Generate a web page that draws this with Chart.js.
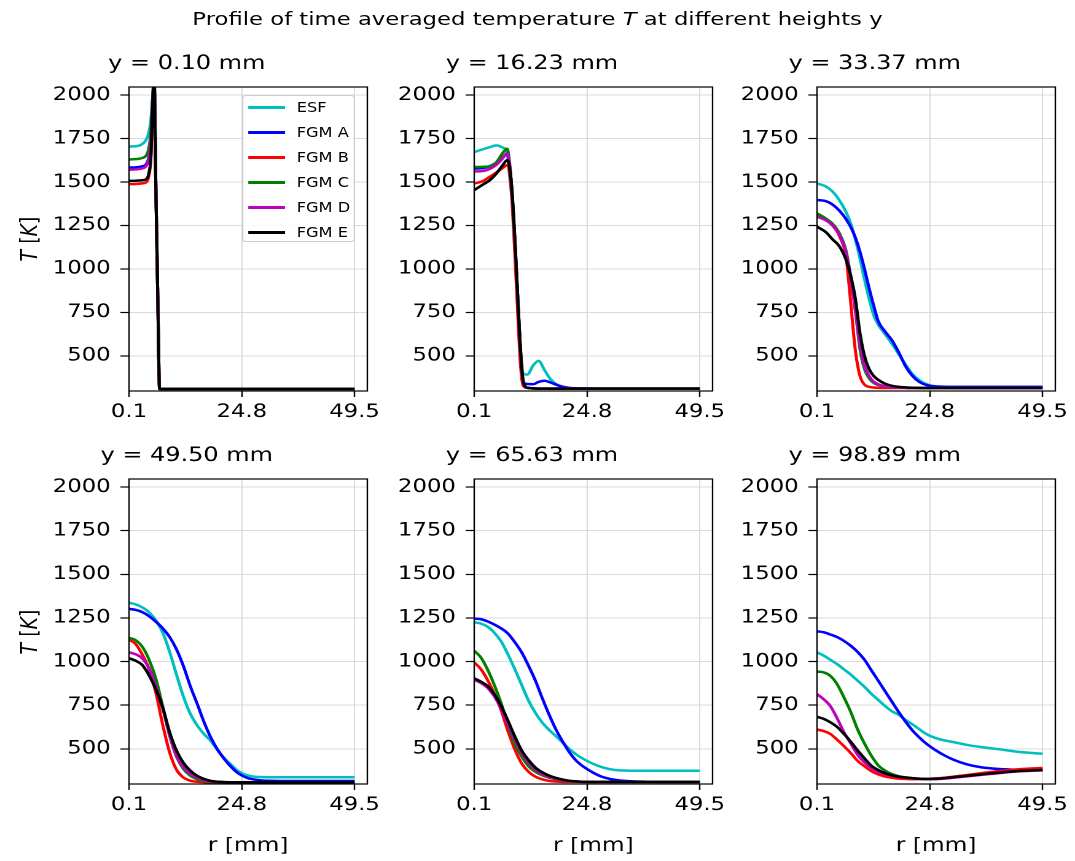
<!DOCTYPE html>
<html>
<head>
<meta charset="UTF-8">
<title>Temperature profiles</title>
<script src="https://cdn.jsdelivr.net/npm/chart.js@4"></script>
<style>
  body { margin: 0; background: #fff; }
  /* figure is laid out at 875px wide and stretched to 1075px like the reference */
  #figure {
    position: absolute; left: 0; top: 0; width: 875px; height: 861px;
    transform: scaleX(1.228571); transform-origin: 0 0;
    font-family: "DejaVu Sans", sans-serif; color: #000;
  }
  #figure canvas { position: absolute; }
  .suptitle { position: absolute; left: 0; top: 8px; width: 875px; text-align: center; font-size: 18.5px; line-height: 22px; }
  .ylabel { position: absolute; width: 200px; height: 22px; line-height: 22px; font-size: 19px; text-align: center; transform: rotate(-90deg); }
  .legend { position: absolute; left: 196.5px; top: 95px; width: 92px; height: 147px; border: 1px solid #cccccc; border-radius: 3px; background: rgba(255,255,255,0.8); box-sizing: border-box; }
  .legend .row { position: absolute; left: 0; height: 20px; width: 100%; font-size: 13.2px; line-height: 20px; }
  .legend .line { position: absolute; left: 4px; top: 8.7px; width: 30px; height: 2.5px; }
  .legend .txt { position: absolute; left: 44px; top: 0; white-space: nowrap; }
</style>
</head>
<body>
<div id="figure">
  <div class="suptitle">Profile of time averaged temperature <i>T</i> at different heights y</div>
</div>
<script>
const seriesNames = ['ESF', 'FGM A', 'FGM B', 'FGM C', 'FGM D', 'FGM E'];
const seriesColors = ['#00bfbf', '#0000ff', '#ff0000', '#008000', '#bf00bf', '#000000'];
const panelTitles = ['y = 0.10 mm', 'y = 16.23 mm', 'y = 33.37 mm', 'y = 49.50 mm', 'y = 65.63 mm', 'y = 98.89 mm'];
const xTicks = [0.1, 24.8, 49.5];
const xTickLabels = ['0.1', '24.8', '49.5'];
const yTicks = [500, 750, 1000, 1250, 1500, 1750, 2000];

// y = 0.10 mm
const r1 = [0.1, 1.5, 3, 3.8, 4.4, 4.9, 5.3, 5.6, 6.0, 6.4, 6.8, 8, 20, 35, 49.5];
const T1 = [
  [1704, 1705, 1718, 1740, 1780, 1860, 2000, 2100, 1440, 840, 310, 310, 310, 310, 310], // ESF
  [1583, 1584, 1590, 1600, 1640, 1750, 1980, 2100, 1440, 840, 310, 310, 310, 310, 310], // FGM A
  [1487, 1488, 1492, 1497, 1530, 1640, 1950, 2100, 1440, 840, 310, 310, 310, 310, 310], // FGM B
  [1630, 1631, 1638, 1650, 1690, 1790, 1990, 2100, 1440, 840, 310, 310, 310, 310, 310], // FGM C
  [1571, 1572, 1578, 1590, 1630, 1740, 1980, 2100, 1440, 840, 310, 310, 310, 310, 310], // FGM D
  [1506, 1507, 1510, 1515, 1545, 1650, 1960, 2080, 1440, 840, 310, 310, 310, 310, 310]  // FGM E
];

// y = 16.23 mm
const r2 = [0.1, 2, 3.5, 5, 6.3, 7.3, 7.8, 8.4, 9.0, 9.6, 10.2, 10.8, 11.7, 13, 14.2, 15.5, 16.8, 18.5, 20, 22, 30, 49.5];
const T2 = [
  [1672, 1688, 1700, 1710, 1698, 1670, 1545, 1390, 1150, 850, 560, 400, 392, 445, 471, 418, 366, 330, 318, 313, 312, 312],
  [1577, 1580, 1590, 1612, 1640, 1660, 1605, 1430, 1165, 850, 540, 350, 338, 337, 350, 357, 347, 330, 320, 314, 312, 312],
  [1491, 1505, 1530, 1555, 1580, 1596, 1560, 1380, 1080, 760, 460, 330, 316, 313, 312, 312, 312, 312, 312, 312, 312, 312],
  [1586, 1587, 1590, 1615, 1665, 1691, 1620, 1430, 1165, 850, 540, 355, 316, 313, 312, 312, 312, 312, 312, 312, 312, 312],
  [1560, 1563, 1575, 1600, 1635, 1665, 1610, 1430, 1165, 850, 540, 355, 316, 313, 312, 312, 312, 312, 312, 312, 312, 312],
  [1453, 1485, 1510, 1550, 1595, 1625, 1590, 1440, 1175, 860, 550, 360, 317, 313, 312, 312, 312, 312, 312, 312, 312, 312]
];

// y = 33.37 mm
const r3 = [0.1, 2, 3.5, 5, 6.5, 7.5, 8.5, 9.5, 10.5, 11.5, 12.5, 13.5, 15, 16.5, 18, 19.5, 21, 22.5, 24, 26, 30, 49.5];
const T3 = [
  [1491, 1475, 1445, 1395, 1325, 1260, 1170, 1060, 940, 830, 735, 680, 625, 570, 510, 450, 395, 360, 338, 325, 322, 322],
  [1396, 1390, 1370, 1335, 1285, 1240, 1180, 1100, 1000, 890, 790, 700, 640, 590, 520, 440, 385, 350, 333, 324, 322, 322],
  [1308, 1285, 1250, 1190, 1060, 800, 530, 385, 335, 322, 318, 316, 315, 315, 315, 315, 315, 315, 315, 315, 315, 315],
  [1320, 1290, 1260, 1205, 1100, 950, 760, 540, 425, 372, 345, 333, 325, 320, 318, 316, 315, 315, 315, 315, 315, 315],
  [1300, 1280, 1250, 1195, 1090, 945, 760, 565, 445, 385, 352, 337, 326, 320, 318, 316, 315, 315, 315, 315, 315, 315],
  [1243, 1212, 1170, 1130, 1050, 960, 830, 633, 500, 425, 385, 362, 340, 328, 322, 319, 317, 316, 315, 315, 315, 315]
];

// y = 49.50 mm
const r4 = [0.1, 1.5, 3, 4.5, 6, 7.5, 9, 10.5, 12, 13.5, 15, 16.5, 18, 19.5, 21, 22.5, 24, 26, 28, 32, 40, 49.5];
const T4 = [
  [1337, 1328, 1310, 1282, 1235, 1165, 1055, 925, 800, 702, 635, 585, 545, 492, 445, 408, 372, 348, 339, 337, 337, 337],
  [1302, 1296, 1283, 1260, 1228, 1190, 1140, 1070, 975, 860, 760, 655, 565, 495, 440, 395, 360, 333, 322, 316, 315, 315],
  [1125, 1102, 1040, 955, 820, 635, 478, 380, 335, 317, 311, 309, 308, 308, 308, 308, 308, 308, 308, 308, 308, 308],
  [1135, 1123, 1085, 1010, 900, 740, 575, 455, 385, 346, 325, 314, 310, 309, 308, 308, 308, 308, 308, 308, 308, 308],
  [1052, 1042, 1018, 960, 855, 730, 575, 460, 395, 356, 335, 320, 313, 310, 309, 308, 308, 308, 308, 308, 308, 308],
  [1019, 1005, 980, 920, 840, 735, 595, 490, 420, 375, 345, 327, 316, 311, 309, 308, 308, 308, 308, 308, 308, 308]
];

// y = 65.63 mm
const r5 = [0.1, 1.5, 3, 4.5, 6, 7.5, 9, 10.5, 12, 13.5, 15, 16.5, 18, 19.5, 21, 22.5, 24, 26, 28, 30, 32, 36, 40, 49.5];
const T5 = [
  [1225, 1218, 1200, 1165, 1115, 1040, 955, 865, 775, 705, 650, 608, 572, 535, 497, 466, 442, 415, 395, 382, 376, 374, 374, 374],
  [1246, 1243, 1230, 1212, 1190, 1160, 1110, 1052, 975, 890, 790, 695, 610, 540, 478, 430, 398, 365, 340, 326, 318, 312, 310, 310],
  [994, 958, 895, 815, 720, 600, 495, 415, 368, 340, 325, 316, 312, 310, 310, 310, 310, 310, 310, 310, 310, 310, 310, 310],
  [1062, 1025, 955, 865, 760, 635, 530, 455, 400, 368, 348, 334, 325, 318, 314, 312, 310, 310, 310, 310, 310, 310, 310, 310],
  [895, 878, 850, 800, 730, 640, 555, 475, 420, 380, 355, 338, 328, 320, 315, 312, 310, 310, 310, 310, 310, 310, 310, 310],
  [904, 885, 860, 812, 745, 660, 570, 490, 435, 392, 365, 346, 333, 323, 316, 313, 311, 310, 310, 310, 310, 310, 310, 310]
];

// y = 98.89 mm
const r6 = [0.1, 1.5, 3, 4.5, 6, 7.5, 9, 10.5, 12, 13.5, 15, 16.5, 18, 19.5, 21, 22.5, 24, 26, 28, 30, 33, 36, 40, 44, 49.5];
const T6 = [
  [1052, 1035, 1010, 985, 955, 925, 890, 855, 815, 780, 745, 715, 695, 665, 640, 612, 585, 562, 548, 538, 522, 510, 497, 483, 471],
  [1173, 1168, 1155, 1140, 1118, 1090, 1055, 1010, 950, 890, 830, 770, 710, 655, 605, 565, 530, 493, 462, 437, 410, 394, 384, 380, 379],
  [610, 602, 585, 552, 515, 475, 430, 400, 372, 353, 341, 334, 329, 327, 326, 326, 327, 330, 334, 340, 350, 360, 372, 382, 390],
  [942, 938, 918, 870, 795, 710, 610, 530, 460, 405, 375, 355, 343, 336, 332, 329, 327, 327, 330, 335, 343, 352, 362, 371, 378],
  [813, 785, 745, 675, 595, 530, 465, 422, 390, 368, 355, 345, 338, 334, 331, 328, 326, 326, 329, 334, 342, 350, 360, 370, 376],
  [683, 672, 652, 625, 585, 540, 490, 445, 403, 378, 360, 348, 340, 335, 331, 328, 327, 328, 332, 337, 345, 353, 363, 372, 379]
];

const panelR = [r1, r2, r3, r4, r5, r6];
const panelT = [T1, T2, T3, T4, T5, T6];

const xMin = 0.1, xMax = 52.3;
const yMin = 298, yMax = 2046;

// layout (in unstretched px)
const plotLefts = [105, 385.5, 665];
const plotTops = [87, 479];
const plotHeights = [304, 305];
const plotW = 194;
const axisW = 100, titleH = 40;
const xAxisH = [40, 76];

const fontFamily = '"DejaVu Sans", sans-serif';
const tickFont = { family: fontFamily, size: 18.5 };
const gridColor = '#dadada';

const frame = {
  id: 'frame',
  afterDatasetsDraw(chart) {
    const { ctx, chartArea: a } = chart;
    ctx.save();
    ctx.strokeStyle = '#000';
    ctx.lineWidth = 1.2;
    ctx.strokeRect(a.left, a.top, a.right - a.left, a.bottom - a.top);
    ctx.restore();
  }
};

const figure = document.getElementById('figure');

for (let p = 0; p < 6; p++) {
  const row = Math.floor(p / 3), col = p % 3;
  const canvas = document.createElement('canvas');
  canvas.width = axisW + plotW + axisW;
  canvas.height = titleH + plotHeights[row] + xAxisH[row];
  canvas.style.left = (plotLefts[col] - axisW) + 'px';
  canvas.style.top = (plotTops[row] - titleH) + 'px';
  figure.appendChild(canvas);

  const r = panelR[p], T = panelT[p];
  const datasets = seriesNames.map((name, s) => ({
    label: name,
    data: r.map((x, k) => ({ x: x, y: T[s][k] })),
    borderColor: seriesColors[s],
    borderWidth: 2.5,
    pointRadius: 0,
    fill: false,
    cubicInterpolationMode: 'monotone',
    clip: 0,
    order: seriesNames.length - s
  }));

  new Chart(canvas, {
    type: 'line',
    data: { datasets },
    plugins: [frame],
    options: {
      responsive: false,
      devicePixelRatio: 2,
      animation: false,
      events: [],
      layout: { padding: { left: 0, right: axisW, top: 0, bottom: 0 } },
      plugins: {
        legend: { display: false },
        tooltip: { enabled: false },
        title: {
          display: true,
          text: panelTitles[p],
          color: '#000',
          font: { family: fontFamily, size: 19.5, weight: 'normal' },
          padding: { top: 5, bottom: 11.6 }
        }
      },
      scales: {
        x: {
          type: 'linear',
          min: xMin, max: xMax,
          bounds: 'data',
          afterBuildTicks: s => { s.ticks = xTicks.map(v => ({ value: v })); },
          afterFit: s => { s.height = xAxisH[row]; s.paddingLeft = 0; s.paddingRight = 0; },
          ticks: { font: tickFont, color: '#000', padding: 4, maxRotation: 0, autoSkip: false,
                   callback: (v, i) => xTickLabels[i] },
          grid: { color: gridColor, lineWidth: 1, tickColor: '#000', tickLength: 6, tickWidth: 1.2 },
          border: { display: false },
          title: { display: row === 1, text: 'r [mm]', color: '#000',
                   font: { family: fontFamily, size: 19 }, padding: { top: 0, bottom: 2.6 } }
        },
        y: {
          type: 'linear',
          min: yMin, max: yMax,
          bounds: 'data',
          afterBuildTicks: s => { s.ticks = yTicks.map(v => ({ value: v })); },
          afterFit: s => { s.width = axisW; s.paddingTop = 0; s.paddingBottom = 0; },
          ticks: { font: tickFont, color: '#000', padding: 8, autoSkip: false,
                   callback: v => String(v) },
          grid: { color: gridColor, lineWidth: 1, tickColor: '#000', tickLength: 7, tickWidth: 1.2 },
          border: { display: false }
        }
      }
    }
  });
}

// y axis labels on the first column
for (let row = 0; row < 2; row++) {
  const lab = document.createElement('div');
  lab.className = 'ylabel';
  lab.innerHTML = '<i>T</i> [<i>K</i>]';
  const cy = plotTops[row] + plotHeights[row] / 2;
  lab.style.left = (23 - 100) + 'px';
  lab.style.top = (cy - 11) + 'px';
  figure.appendChild(lab);
}

// legend in the first panel
const legend = document.createElement('div');
legend.className = 'legend';
seriesNames.forEach((name, s) => {
  const rowEl = document.createElement('div');
  rowEl.className = 'row';
  rowEl.style.top = (1.7 + 25 * s) + 'px';
  rowEl.innerHTML = '<span class="line" style="background:' + seriesColors[s] + '"></span><span class="txt">' + name + '</span>';
  legend.appendChild(rowEl);
});
figure.appendChild(legend);
</script>
</body>
</html>
